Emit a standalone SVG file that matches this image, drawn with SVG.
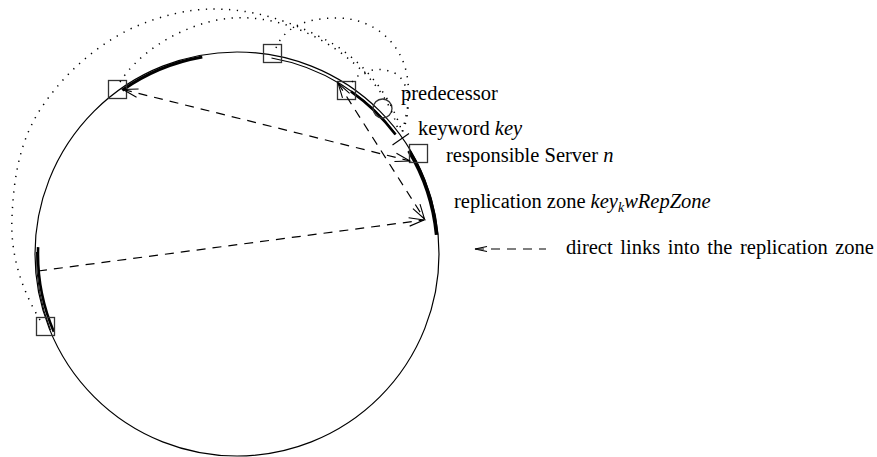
<svg xmlns="http://www.w3.org/2000/svg" width="877" height="457" viewBox="0 0 877 457">
<style>
.ring{fill:none;stroke:#000;stroke-width:1.2}
.arc{fill:none;stroke:#000;stroke-linecap:butt}
.node{fill:none;stroke:#333;stroke-width:1.3}
.dash{fill:none;stroke:#000;stroke-width:1.2;stroke-dasharray:9 7}
.dot{fill:none;stroke:#000;stroke-width:1.5;stroke-dasharray:1.3 6.5}
text{font-family:"Liberation Serif","Times New Roman",serif;font-size:20.5px;fill:#000}
.it{font-style:italic}
</style>
<defs>
<marker id="ah" markerUnits="userSpaceOnUse" orient="auto-start-reverse" markerWidth="20" markerHeight="12" refX="16" refY="6" viewBox="0 0 20 12" overflow="visible">
<path d="M1,1.8 L16,6 L1,10.2" fill="none" stroke="#000" stroke-width="1.1"/>
</marker>
<marker id="ahs" markerUnits="userSpaceOnUse" orient="auto-start-reverse" markerWidth="16" markerHeight="10" refX="13" refY="5" viewBox="0 0 16 10" overflow="visible">
<path d="M1,2.5 L13,5 L1,7.5" fill="none" stroke="#000" stroke-width="1.1"/>
</marker>
</defs>

<g id="ring">
<circle class="ring" cx="237" cy="254" r="202"/>
<path class="arc" stroke-width="3" d="M122.3,90.2 A200,200 0 0 1 202.3,57"/>
<path class="arc" stroke-width="1.1" d="M271.5,58 A199,199 0 0 1 395.9,134.2"/>
<path class="arc" stroke-width="2.6" d="M350.9,91.4 A198.5,198.5 0 0 1 395.5,134.5"/>
<path class="arc" stroke-width="3.6" d="M408.9,150.7 A200.5,200.5 0 0 1 436.6,234.8"/>
<path class="arc" stroke-width="2.6" d="M38.1,247.1 A199,199 0 0 0 53.8,331.7"/>
<path class="arc" stroke-width="1" d="M36.5,252 A200.5,200.5 0 0 0 50.5,330"/>
<line class="arc" stroke-width="1.1" x1="392.5" y1="145" x2="409" y2="133.5"/>
</g>

<g id="node-s1"><rect class="node" x="108.5" y="80.5" width="18" height="18"/></g>
<g id="node-s2"><rect class="node" x="263.5" y="44.5" width="18" height="18"/></g>
<g id="node-s3"><rect class="node" x="337.5" y="81.5" width="18" height="18"/></g>
<g id="node-n"><rect class="node" x="409.5" y="144.5" width="18" height="18"/></g>
<g id="node-s5"><rect class="node" x="36.5" y="317.5" width="18" height="18"/></g>
<g id="node-pred"><circle class="node" cx="382.5" cy="108.5" r="9.5"/></g>

<g id="connectors">
<path class="dot" d="M40,320 C22,290 10,255 12,217 C14,170 22,140 38,113 C60,78 90,50 128,30 C160,15 190,9 213,9 C260,9 300,25 335,45 C370,68 392,100 402,132"/>
<path class="dot" d="M120,82 C135,58 170,30 217,20 C270,10 320,35 350,60 C375,80 392,105 398,130"/>
<path class="dot" d="M276,48 C285,25 310,18 337,18 C375,18 405,45 408,83 C410,100 406,118 402,132"/>
<path class="dot" d="M352,82 C362,68 385,66 398,75 C412,88 410,115 402,133"/>
<path class="dash" d="M123,89.5 L410,161" marker-start="url(#ah)" marker-end="url(#ah)"/>
<path class="dash" d="M338,83 L424.5,219" marker-start="url(#ah)" marker-end="url(#ah)"/>
<path class="dash" d="M38,271 L424,220" marker-end="url(#ah)"/>
<path class="dash" d="M475,249 L546,249" marker-start="url(#ahs)"/>
</g>

<g id="labels">
<text x="401" y="100">predecessor</text>
<text x="418" y="135">keyword <tspan class="it">key</tspan></text>
<text x="446" y="162">responsible Server <tspan class="it">n</tspan></text>
<text x="454" y="208">replication zone <tspan class="it">key</tspan><tspan class="it" font-size="14" dy="4">k</tspan><tspan class="it" dy="-4">wRepZone</tspan></text>
<text x="566" y="254" word-spacing="2.5">direct links into the replication zone</text>
</g>
</svg>
